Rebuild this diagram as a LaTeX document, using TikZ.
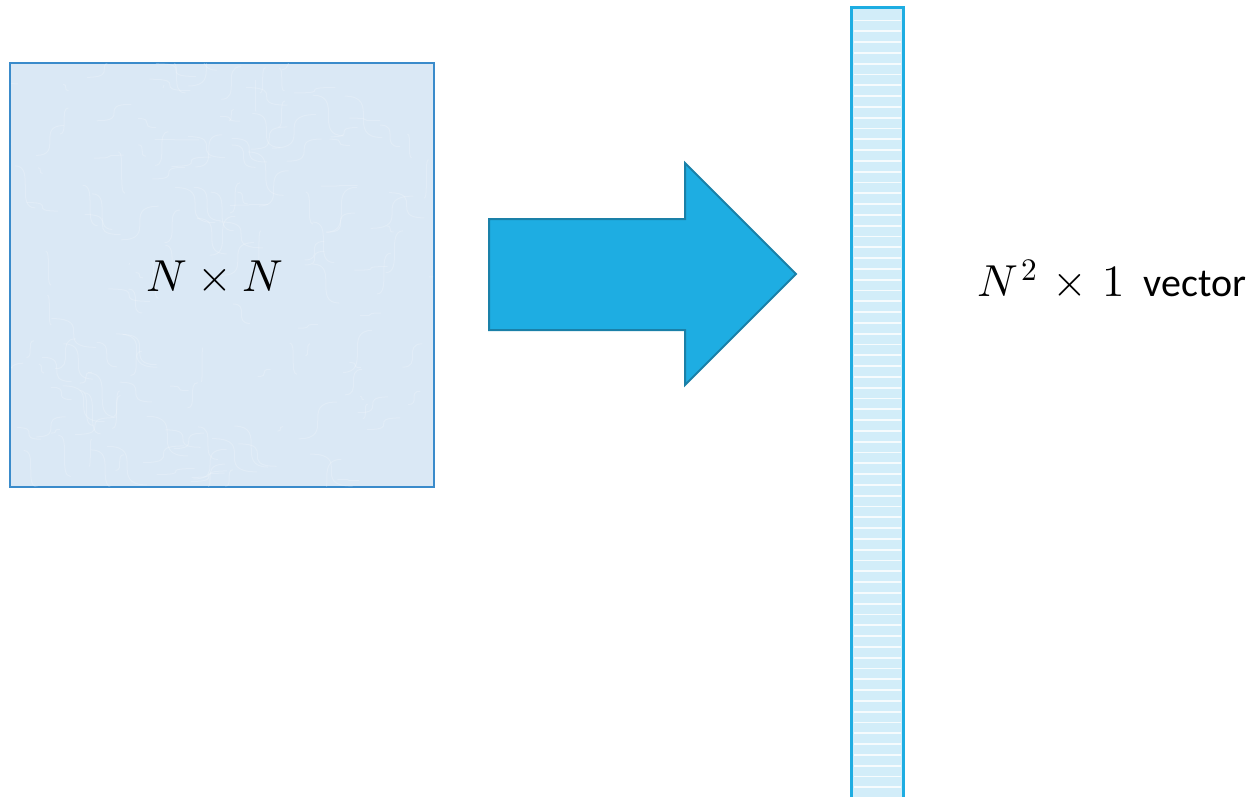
\documentclass[tikz,border=0pt]{standalone}
\usepackage{fontspec}
\usepackage{unicode-math}
\setmainfont{Carlito}
\setmathfont[Scale=1.12]{Latin Modern Math}
\definecolor{sqfill}{HTML}{DAE8F5}
\definecolor{sqedge}{HTML}{3A8BCB}
\definecolor{arrfill}{HTML}{1EADE2}
\definecolor{arredge}{HTML}{1A80A8}
\definecolor{barfill}{HTML}{D2EDF9}
\definecolor{baredge}{HTML}{1EADE2}
\tikzset{
  matrixbox/.style={draw=sqedge, line width=2.2pt, fill=sqfill},
  bigarrow/.style={draw=arredge, line width=2pt, fill=arrfill, line join=miter},
  vecbar/.style={draw=baredge, line width=3pt, fill=barfill},
  stripe/.style={white, line width=1.8pt, opacity=0.8},
  lbl/.style={font=\fontsize{40}{48}\selectfont, inner sep=0pt}
}
\begin{document}
\begin{tikzpicture}[x=1pt, y=-1pt]
  \useasboundingbox (0,0) rectangle (1260,797);
  % input matrix
  \draw[matrixbox] (10,63) rectangle (434,487);
  \coordinate (sqc) at (215,276);
  % soft marbled texture inside the matrix
  \begin{scope}
    \clip (11,64) rectangle (433,486);
    \pgfmathsetseed{7}
    \foreach \i in {1,...,160} {
      \pgfmathsetmacro{\xa}{10+rnd*424}
      \pgfmathsetmacro{\ya}{63+rnd*424}
      \pgfmathsetmacro{\xb}{\xa+(rnd-0.5)*90}
      \pgfmathsetmacro{\yb}{\ya+(rnd-0.5)*90}
      \draw[white, opacity=0.2, line width=1pt] (\xa,\ya) .. controls (\xb,\ya) and (\xa,\yb) .. (\xb,\yb);
    }
  \end{scope}
  \node[lbl] (mat) at (sqc) {$N\times N$};
  % transformation arrow
  \draw[bigarrow] (489,219) -- (685,219) -- (685,163) -- (796,274)
    -- (685,385) -- (685,330) -- (489,330) -- cycle;
  % output column vector
  \begin{scope}
    \clip (0,0) rectangle (1260,797);
    \draw[vecbar] (851.5,7.5) rectangle (903,810);
    \foreach \k in {0,...,72} {
      \draw[stripe] (853.5,{20.5+\k*10.8}) -- (901,{20.5+\k*10.8});
    }
  \end{scope}
  \node[lbl, anchor=west] (vec) at (977,278) {$N^{\mskip2mu 2}\mskip2mu\times\mskip2mu 1$\hspace{0.25em} vector};
\end{tikzpicture}
\end{document}
